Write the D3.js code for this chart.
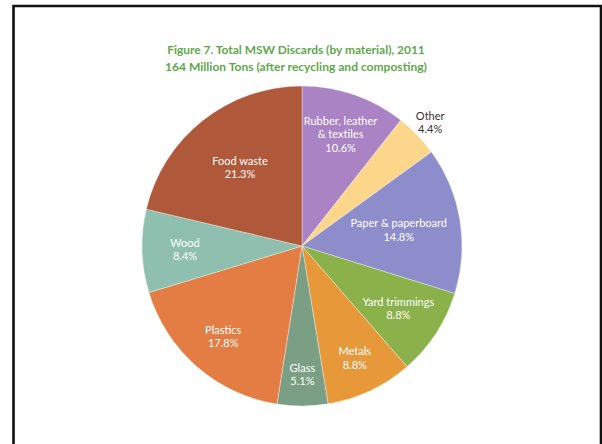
<!DOCTYPE html>
<html>
<head>
<meta charset="utf-8">
<script src="https://cdn.jsdelivr.net/npm/d3@7"></script>
<style>
  html, body { margin: 0; padding: 0; background: #fff; }
  svg { display: block; }
</style>
</head>
<body>
<svg id="chart" width="602" height="444"></svg>
<script>
// ---- data ----
const categories = ["Rubber, leather\n& textiles", "Other", "Paper & paperboard", "Yard trimmings",
                    "Metals", "Glass", "Plastics", "Wood", "Food waste"];
const values = [10.6, 4.4, 14.8, 8.8, 8.8, 5.1, 17.8, 8.4, 21.3];
const titleLines = ["Figure 7. Total MSW Discards (by material), 2011",
                    "164 Million Tons (after recycling and composting)"];

// ---- styles / layout ----
const colors = ["#a983c4", "#fcd68b", "#8e8dcb", "#8bb14a", "#e7993a", "#7b9f84", "#e47d44", "#8fbfaf", "#b0593a"];
const labelColors = ["#fff", "#333", "#fff", "#fff", "#fff", "#fff", "#fff", "#fff", "#fff"];
const labelRadius = [118, 178, 98, 115, 124, 129, 120, 117, 100];

const W = 602, H = 444;
const cx = 302, cy = 246, R = 160;
const svg = d3.select("#chart");

svg.append("rect").attr("width", W).attr("height", H).attr("fill", "#fff");

// frame
const frame = svg.append("g").attr("stroke", "#111").attr("fill", "none");
frame.append("path").attr("d", `M13.5,${H} L13.5,6 L601,6 L601,${H}`).attr("stroke-width", 2.6);

// title
const title = svg.append("g").attr("font-family", "Lato, 'Open Sans', sans-serif")
  .attr("fill", "#5ea84a").attr("font-weight", 700).attr("text-anchor", "middle");
const titleWidths = [258, 262];
titleLines.forEach((t, i) => {
  const el = title.append("text").attr("x", 296).attr("y", 50 + i * 17).attr("dy", "0.35em")
    .attr("font-size", 12).text(t);
  const w = el.node().getComputedTextLength();
  el.attr("font-size", 12 * titleWidths[i] / w);
});

// pie
const data = categories.map((c, i) => ({ name: c, value: values[i], i }));
const pie = d3.pie().value(d => d.value).sort(null);
const arcs = pie(data);
const arc = d3.arc().innerRadius(0).outerRadius(R);

const g = svg.append("g").attr("transform", `translate(${cx},${cy})`);
g.selectAll("path.slice").data(arcs).join("path")
  .attr("class", "slice")
  .attr("d", arc)
  .attr("fill", d => colors[d.data.i])
  .attr("stroke", "#fff").attr("stroke-opacity", 0.5).attr("stroke-width", 0.7);

// labels
const lineH = 13.3;
const labels = g.selectAll("text.lbl").data(arcs).join("text")
  .attr("class", "lbl")
  .attr("font-family", "Lato, 'Open Sans', sans-serif")
  .attr("font-size", 11)
  .attr("text-anchor", "middle")
  .attr("fill", d => labelColors[d.data.i])
  .attr("transform", d => {
    const a = (d.startAngle + d.endAngle) / 2;
    const r = labelRadius[d.data.i];
    return `translate(${r * Math.sin(a)},${-r * Math.cos(a)})`;
  });
labels.each(function(d) {
  const lines = d.data.name.split("\n").concat([d.data.value.toFixed(1) + "%"]);
  const n = lines.length;
  d3.select(this).selectAll("tspan").data(lines).join("tspan")
    .attr("x", 0)
    .attr("y", (l, k) => (k - (n - 1) / 2) * lineH)
    .attr("dy", "0.35em")
    .text(l => l);
});
</script>
</body>
</html>
